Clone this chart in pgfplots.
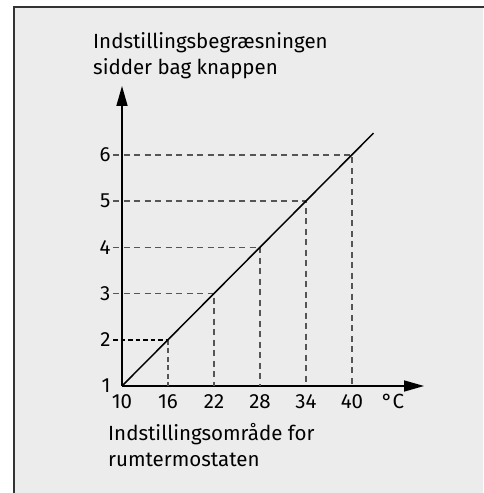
\documentclass[border=0pt]{standalone}
\usepackage{pgfplots}
\pgfplotsset{compat=1.18}
\usepackage{fontspec}
\setmainfont{Fira Sans}
\usetikzlibrary{arrows.meta}
\definecolor{bg}{HTML}{ECECEC}
\definecolor{framec}{HTML}{333333}
\definecolor{dgray}{HTML}{555555}
\begin{document}
\begin{tikzpicture}[x=1pt,y=1pt]
\path[use as bounding box] (0,0) rectangle (483,493);
\fill[white] (0,0) rectangle (483,493);
\fill[bg] (14,0) rectangle (483,486);
\draw[framec, line width=2.5pt] (14,-2) -- (14,486) -- (485,486);
\begin{axis}[at={(122pt,107pt)}, anchor=south west, scale only axis,
  width=302pt, height=300pt, xmin=10, xmax=49.39, ymin=1, ymax=7.49,
  axis lines=left,
  axis line style={line width=1.6pt, -{Triangle[length=20pt,width=11pt]}},
  clip=false,
  xtick={10,16,22,28,34,40,45.35},
  xticklabels={10,16,22,28,34,40,°C},
  ytick={1,2,3,4,5,6},
  major tick length=0pt,
  tick label style={font=\fontsize{20.5}{24}\selectfont},
  /pgf/number format/assume math mode=true,
  xticklabel style={yshift=-5pt},
  yticklabel style={xshift=-8pt},
]
\addplot[dgray, line width=1.3pt, dash pattern=on 6pt off 4.5pt] coordinates {(8.83,3) (22,3) (22,1)};
\addplot[dgray, line width=1.3pt, dash pattern=on 6pt off 4.5pt] coordinates {(8.83,4) (28,4) (28,1)};
\addplot[dgray, line width=1.3pt, dash pattern=on 6pt off 4.5pt] coordinates {(8.83,5) (34,5) (34,1)};
\addplot[dgray, line width=1.3pt, dash pattern=on 6pt off 4.5pt] coordinates {(8.83,6) (40,6) (40,1)};
\addplot[dgray, line width=1.3pt, dash pattern=on 5pt off 3.5pt] coordinates {(16,2) (16,1)};
\addplot[black, line width=1.9pt, dash pattern=on 4.5pt off 3pt] coordinates {(8.83,2) (16,2)};
\addplot[black, line width=1.5pt] coordinates {(10,1) (42.8,6.47)};
\end{axis}
\node[anchor=base west, inner sep=0pt, align=left, font=\fontsize{20.5}{26}\selectfont] at (93,418) {Indstillingsbegræsningen\\sidder bag knappen};
\node[anchor=base west, inner sep=0pt, align=left, font=\fontsize{20.5}{26}\selectfont] at (108,26) {Indstillingsområde for\\rumtermostaten};
\end{tikzpicture}
\end{document}
